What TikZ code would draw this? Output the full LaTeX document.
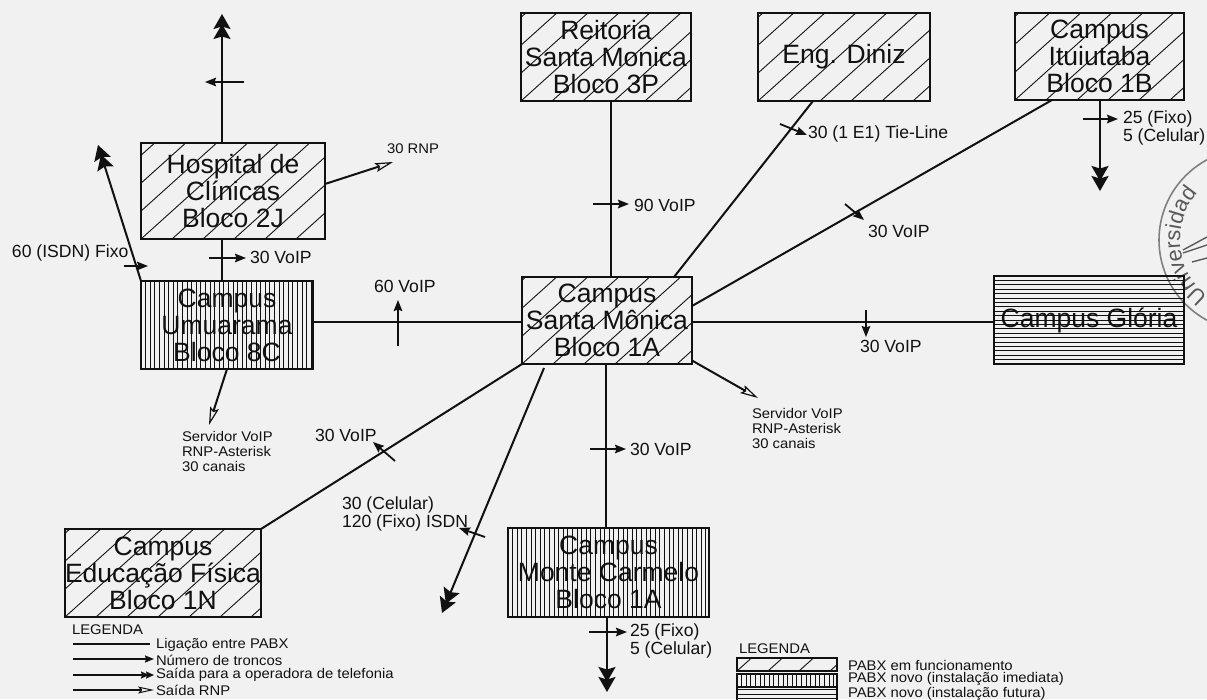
\documentclass[tikz,border=0pt]{standalone}
\usepackage{fontspec}
\setmainfont{Liberation Sans}
\newfontfamily\widefam[FakeStretch=1.06]{Liberation Sans}
\usetikzlibrary{arrows.meta,decorations.text}
\definecolor{paper}{HTML}{F1F1F1}
\definecolor{ink}{HTML}{111111}
\newcommand{\szBox}{\fontsize{26.5}{27}\selectfont}
\newcommand{\szLab}{\fontsize{17.6}{18}\selectfont}
\newcommand{\szSmall}{\widefam\fontsize{14}{15}\selectfont}
\newcommand{\tickmark}[3]{\coordinate (#1a) at (#2); \coordinate (#1b) at (#3); \draw[tickline] (#1a) -- (#1b);}
\tikzset{
  x=1pt,y=-1pt,
  basebox/.style={draw=ink,line width=2pt,inner sep=0pt,outer sep=0pt,align=center,text=ink,font=\szBox},
  hatchdiag/.style={path picture={
    \foreach \i in {-12,...,40}{\draw[ink,line width=.9pt] ([xshift=\i*31pt]path picture bounding box.south west) -- +(220pt,198pt);}}},
  hatchvert/.style={path picture={
    \foreach \i in {0,...,50}{\draw[ink,line width=.9pt] ([xshift=\i*4.6pt]path picture bounding box.south west) -- +(0pt,120pt);}}},
  hatchhorz/.style={path picture={
    \foreach \i in {0,...,30}{\draw[ink,line width=.9pt] ([yshift=\i*4.4pt]path picture bounding box.south west) -- +(220pt,0pt);}}},
  link/.style={draw=ink,line width=2pt},
  outdouble/.style={link,-{Stealth[length=15pt,width=17pt,inset=2.5pt,sep=-5pt]Stealth[length=15pt,width=17pt,inset=2.5pt]}},
  outopen/.style={link,-{Stealth[open,length=18pt,width=9pt,inset=3pt,fill=paper,line width=1.2pt]}},
  tickline/.style={draw=ink,line width=1.8pt,-{Stealth[length=11pt,width=8.5pt,inset=1.5pt]}},
  lab/.style={anchor=west,inner sep=0pt,outer sep=0pt,align=left,text=ink,font=\szLab},
  smalllab/.style={lab,font=\szSmall},
}
\begin{document}
\begin{tikzpicture}
\fill[paper] (0,0) rectangle (1207,699);
\useasboundingbox (0,0) rectangle (1207,699);
\clip (0,0) rectangle (1207,699);

% stamp
\draw[gray,line width=1.6pt] (1250,240) circle[radius=91];
\path[postaction={decorate,decoration={text along path,text align={left},text={|\fontsize{22}{22}\selectfont\color{gray!70!black}|Universidad}}}]
  (1250,240) ++(127:70) arc[start angle=127,end angle=240,radius=70];
\draw[gray!70!black,line width=1.4pt] (1183,250) -- (1207,237) (1183,253) -- (1207,245) (1192,262) -- (1207,258);

% PABX nodes
\node[basebox,hatchdiag,minimum width=184pt,minimum height=96pt] (hosp) at (233,191) {Hospital de\\Clínicas\\Bloco 2J};
\node[basebox,hatchvert,minimum width=172pt,minimum height=88pt] (umu) at (227,325) {Campus\\Umuarama\\Bloco 8C};
\node[basebox,hatchdiag,minimum width=170pt,minimum height=88pt] (reit) at (606,57) {Reitoria\\Santa Monica\\Bloco 3P};
\node[basebox,hatchdiag,minimum width=172pt,minimum height=88pt] (diniz) at (844,57) {\raisebox{-2pt}{Eng. Diniz}};
\node[basebox,hatchdiag,minimum width=169pt,minimum height=87pt] (itu) at (1099.5,56.5) {Campus\\Ituiutaba\\Bloco 1B};
\node[basebox,hatchdiag,minimum width=170pt,minimum height=87pt] (sm) at (607,320.5) {Campus\\Santa Mônica\\Bloco 1A};
\node[basebox,hatchhorz,minimum width=190pt,minimum height=88pt] (glo) at (1089,320) {\raisebox{-2pt}{Campus Glória}};
\node[basebox,hatchdiag,minimum width=196pt,minimum height=88pt] (edu) at (163,573) {Campus\\Educação Física\\Bloco 1N};
\node[basebox,hatchvert,minimum width=201pt,minimum height=89pt] (mc) at (608.5,572.5) {Campus\\Monte Carmelo\\Bloco 1A};

% free ends
\coordinate (hospup) at (222,14);
\coordinate (umuup) at (98,145);
\coordinate (rnpend) at (393,162);
\coordinate (servu) at (209,425);
\coordinate (servs) at (758,398);
\coordinate (itudown) at (1100,191);
\coordinate (mcdown) at (607,692);
\coordinate (smdown) at (442,613);

% links between PABX
\draw[link] ([xshift=5pt]reit.south) -- ([xshift=4pt]sm.north);
\draw[link] ([xshift=-31pt]diniz.south) -- ([xshift=67pt]sm.north);
\draw[link] ([xshift=-47.5pt]itu.south) -- ([yshift=14.5pt]sm.east);
\draw[link] ([yshift=-1.5pt]sm.east) -- ([yshift=-2pt]glo.west);
\draw[link] ([yshift=3pt]umu.east) -- ([yshift=-1.5pt]sm.west);
\draw[link] ([xshift=-11pt]hosp.south) -- ([xshift=-5pt]umu.north);
\draw[link] (sm.south west) -- (edu.north east);
\draw[link] ([xshift=-1pt]sm.south) -- ([xshift=-2.5pt]mc.north);

% outgoing
\draw[outdouble] ([xshift=-11pt]hosp.north) -- (hospup);
\draw[outdouble] (umu.north west) -- (umuup);
\draw[outdouble] ([xshift=.5pt]itu.south) -- (itudown);
\draw[outdouble] ([xshift=-1.5pt]mc.south) -- (mcdown);
\draw[outdouble] ([xshift=-63pt,yshift=-4pt]sm.south) -- (smdown);
\draw[outopen] ([yshift=7pt]hosp.east) -- (rnpend);
\draw[outopen] (umu.south) -- (servu);
\draw[outopen] ([yshift=-40pt]sm.east) -- (servs);

% trunk ticks
\tickmark{ta}{244,82}{205,82}
\tickmark{tb}{124,266}{148,266}
\tickmark{tc}{209,258}{246,258}
\tickmark{td}{398,346}{398,300}
\tickmark{te}{593,204}{629,204}
\tickmark{tf}{780,124}{807,135}
\tickmark{tg}{845,204}{864,220}
\tickmark{th}{866,310}{866,337}
\tickmark{ti}{590,449}{626,449}
\tickmark{tj}{485,537}{459,528}
\tickmark{tk}{395,461}{373,442}
\tickmark{tl}{589,632}{627,632}
\tickmark{tm}{1083,119}{1118,119}

% labels
\node[smalllab] (l1) at (387,149) {30 RNP};
\node[lab] (l2) at (12,253) {60 (ISDN) Fixo};
\node[lab] (l3) at (250,257) {30 VoIP};
\node[lab] (l4) at (374,286) {60 VoIP};
\node[lab] (l5) at (634,205) {90 VoIP};
\node[lab] (l6) at (808,134) {30 (1 E1) Tie-Line};
\node[lab] (l7) at (868,231) {30 VoIP};
\node[lab] (l8) at (860,346) {30 VoIP};
\node[lab] (l9) at (315,435) {30 VoIP};
\node[lab] (l10) at (630,449) {30 VoIP};
\node[lab] (l11) at (342,513.5) {30 (Celular)\\120 (Fixo) ISDN};
\node[lab] (l12) at (1123,128) {25 (Fixo)\\5 (Celular)};
\node[lab] (l13) at (630,640.5) {25 (Fixo)\\5 (Celular)};
\node[smalllab] (l14) at (182,451) {Servidor VoIP\\RNP-Asterisk\\30 canais};
\node[smalllab] (l15) at (752,428) {Servidor VoIP\\RNP-Asterisk\\30 canais};

% left legend
\node[smalllab] (lega) at (72,630) {LEGENDA};
\node[smalllab] (lt1) at (156,645) {Ligação entre PABX};
\node[smalllab] (lt2) at (156,660) {Número de troncos};
\node[smalllab] (lt3) at (156,675) {Saída para a operadora de telefonia};
\node[smalllab] (lt4) at (156,690) {Saída RNP};
\coordinate (k1) at (73,644); \coordinate (k2) at (73,659); \coordinate (k3) at (73,675); \coordinate (k4) at (73,690);
\draw[link,line width=1.6pt] (k1) -- ([xshift=-6pt]k1 -| lt1.west);
\draw[link,line width=1.6pt,-{Stealth[length=9pt,width=7pt,inset=1pt]}] (k2) -- ([xshift=-2pt]k2 -| lt2.west);
\draw[link,line width=1.6pt,-{Stealth[length=8pt,width=7pt,inset=1pt,sep=-3pt]Stealth[length=8pt,width=7pt,inset=1pt]}] (k3) -- ([xshift=-2pt]k3 -| lt3.west);
\draw[link,line width=1.6pt,-{Stealth[open,length=16pt,width=7pt,inset=3pt,fill=paper,line width=1pt]}] (k4) -- ([xshift=-2pt]k4 -| lt4.west);

% right legend
\node[smalllab] (legb) at (739,649) {LEGENDA};
\node[basebox,hatchdiag,minimum width=100pt,minimum height=13pt] (s1) at (787,664.5) {};
\node[basebox,hatchvert,minimum width=100pt,minimum height=13pt] (s2) at (787,680.5) {};
\node[basebox,hatchhorz,minimum width=100pt,minimum height=16pt] (s3) at (787,695) {};
\node[smalllab] (r1) at (848,665) {PABX em funcionamento};
\node[smalllab] (r2) at (848,679) {PABX novo (instalação imediata)};
\node[smalllab] (r3) at (848,694) {PABX novo (instalação futura)};
\end{tikzpicture}
\end{document}
